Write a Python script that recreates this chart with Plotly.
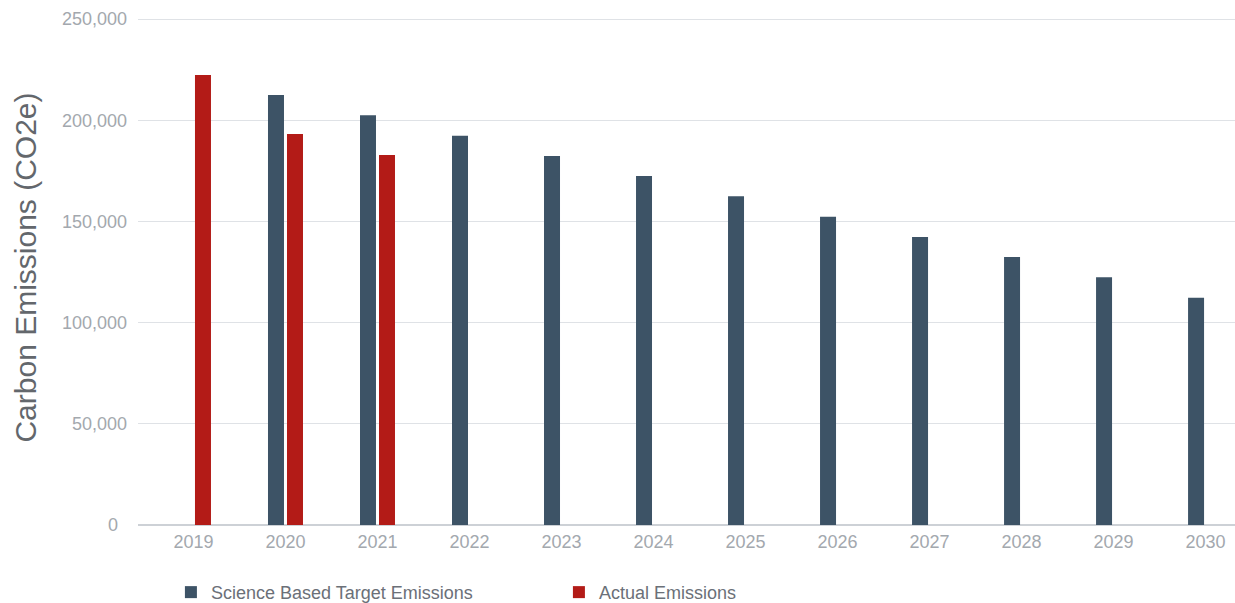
import plotly.graph_objects as go

years = ["2019", "2020", "2021", "2022", "2023", "2024", "2025", "2026", "2027", "2028", "2029", "2030"]
sbt_emissions = [None, 212400, 202400, 192300, 182300, 172400, 162400, 152300, 142300, 132400, 122400, 112300]
actual_emissions = [222300, 193200, 182800, None, None, None, None, None, None, None, None, None]
y_ticks = [0, 50000, 100000, 150000, 200000, 250000]
y_tick_labels = ["0\u2002", "50,000", "100,000", "150,000", "200,000", "250,000"]

NAVY = "#3d5366"
RED = "#b31b17"
FONT = "Liberation Sans, Arial, sans-serif"

fig = go.Figure()
fig.add_trace(go.Bar(name="Science Based Target Emissions", x=years, y=sbt_emissions,
                     marker=dict(color=NAVY, line=dict(width=0))))
fig.add_trace(go.Bar(name="Actual Emissions", x=years, y=actual_emissions,
                     marker=dict(color=RED, line=dict(width=0))))

fig.update_layout(
    width=1235, height=603,
    margin=dict(l=138, r=0, t=10, b=78, autoexpand=False),
    paper_bgcolor="white", plot_bgcolor="white",
    barmode="group", bargap=0.587, bargroupgap=0.158,
    font=dict(family=FONT, color="#a3a8ae", size=18),
    showlegend=True,
    legend=dict(orientation="h", x=0.03, xanchor="left", y=-0.095, yanchor="top",
                font=dict(size=18, color="#6b7078"), entrywidth=343, traceorder="normal"),
)
fig.update_xaxes(
    type="category", range=[-0.603, 11.32], automargin=False,
    showgrid=False, showline=False, zeroline=False, ticks="",
    tickfont=dict(size=18, color="#a3a8ae"), ticklabelstandoff=4,
)
fig.update_yaxes(
    range=[0, 254446], tickvals=y_ticks, ticktext=y_tick_labels, automargin=False,
    showgrid=True, gridcolor="#dfe2e6", gridwidth=1,
    zeroline=True, zerolinecolor="#cdd1d6", zerolinewidth=2,
    showline=False, ticks="", ticklabelstandoff=10,
    tickfont=dict(size=18, color="#a3a8ae"),
    title=dict(text="Carbon Emissions (CO2e)", font=dict(size=30, color="#63676c", family=FONT), standoff=16),
)

fig.write_html("out.html")
